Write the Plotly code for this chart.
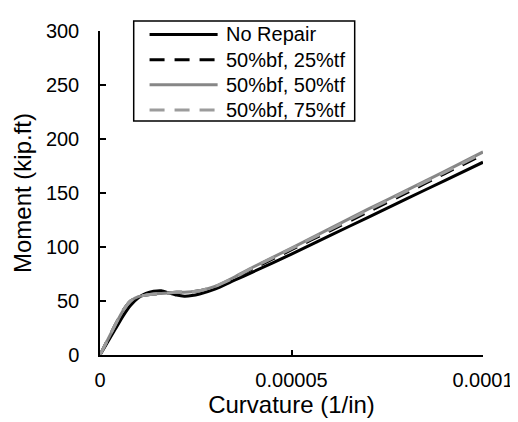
import plotly.graph_objects as go

curvature = [0, 2e-6, 4e-6, 6e-6, 8e-6, 1e-5, 1.2e-5, 1.4e-5, 1.6e-5, 1.8e-5, 2e-5,
             2.2e-5, 2.4e-5, 2.6e-5, 3e-5, 3.5e-5, 4e-5, 5e-5, 6e-5, 7e-5, 8e-5, 9e-5, 1e-4]

no_repair = [0, 12, 24, 36, 46, 53, 57, 59, 59.5, 57.5, 55.5,
             54.5, 55, 56.5, 61, 69, 77, 93.5, 110.5, 127.5, 144.5, 161.5, 178.5]
bf50_tf25 = [0, 14, 28, 41, 50, 54, 55.5, 56.5, 57, 57.5, 58,
             58, 58.5, 59.5, 63, 71, 80, 97.5, 115, 132.5, 150, 168, 185.5]
bf50_tf50 = [0, 14, 28, 41, 50, 54, 55.5, 56.5, 57, 57.5, 58,
             58, 58.5, 59.5, 63.5, 72, 81.5, 99, 117, 135, 152.5, 170, 188]
bf50_tf75 = [0, 14, 28, 41, 50, 54, 55.5, 56.5, 57, 57.5, 58,
             58, 58.5, 59.5, 63.5, 71.5, 81, 98.5, 116, 134, 151.5, 169, 187]

names = ["No Repair", "50%bf, 25%tf", "50%bf, 50%tf", "50%bf, 75%tf"]
series = [no_repair, bf50_tf25, bf50_tf50, bf50_tf75]
colors = ["#000000", "#000000", "#878787", "#9c9c9c"]
dashes = ["solid", "15px,10px", "solid", "15px,10px"]

x_tickvals = [0, 0.00005, 0.0001]
x_ticktext = ["0", "0.00005", "0.0001"]
y_tickvals = [0, 50, 100, 150, 200, 250, 300]

font = dict(family="Liberation Sans, Arial, sans-serif", size=20, color="#000000")

fig = go.Figure()
for n, s, c, d in zip(names, series, colors, dashes):
    fig.add_trace(go.Scatter(x=curvature, y=s, mode="lines", name=n, showlegend=False,
                             line=dict(color=c, width=3, dash=d, shape="spline", smoothing=0.6)))

# legend box (Excel-style), positions in paper coordinates
L, R, T, B = 0.088, 0.665, 1.0305, 0.7226
fig.add_shape(type="rect", xref="paper", yref="paper", x0=L, x1=R, y0=B, y1=T,
              line=dict(color="#000000", width=1.5), fillcolor="white", layer="above")
row_y = [0.9893, 0.9116, 0.8339, 0.7561]
for n, c, d, yy in zip(names, colors, dashes, row_y):
    fig.add_shape(type="line", xref="paper", yref="paper", x0=0.1294, x1=0.3071, y0=yy, y1=yy,
                  line=dict(color=c, width=3, dash=d), layer="above")
    fig.add_annotation(xref="paper", yref="paper", x=0.3249, y=yy, text=n, showarrow=False,
                       xanchor="left", yanchor="middle", font=font)

fig.update_layout(
    width=518, height=422,
    margin=dict(l=92, r=32, t=19, b=75),
    paper_bgcolor="white", plot_bgcolor="white",
    font=font,
    showlegend=False,
    xaxis=dict(range=[0, 0.0001], tickvals=x_tickvals, ticktext=x_ticktext,
               showgrid=False, zeroline=False, showline=True, linecolor="#000000",
               linewidth=1.5, ticks="inside", ticklen=5, tickwidth=1.5, tickcolor="#000000",
               title=dict(text="Curvature (1/in)", standoff=5), ticklabelstandoff=6),
    yaxis=dict(range=[0, 300], tickvals=y_tickvals,
               showgrid=False, zeroline=False, showline=True, linecolor="#000000",
               linewidth=1.5, ticks="inside", ticklen=6, tickwidth=1.5, tickcolor="#000000",
               title=dict(text="Moment (kip.ft)", standoff=7), ticklabelstandoff=15),
)

fig.write_html("out.html")
